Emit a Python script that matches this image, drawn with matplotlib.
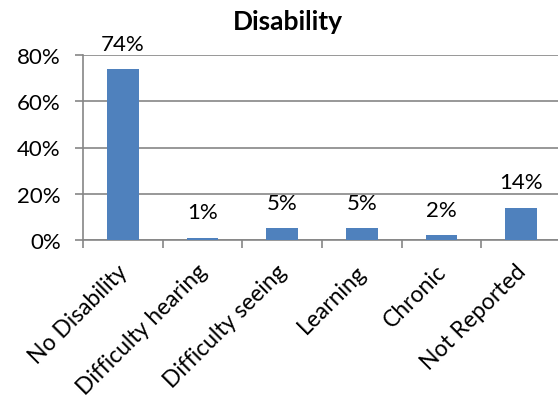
import matplotlib.pyplot as plt
from matplotlib.ticker import PercentFormatter
from matplotlib.transforms import ScaledTranslation

# data
categories = ["No Disability", "Difficulty hearing", "Difficulty seeing",
              "Learning", "Chronic", "Not Reported"]
values = [74, 1, 5, 5, 2, 14]

plt.rcParams['font.family'] = ['Lato', 'DejaVu Sans']

fig = plt.figure(figsize=(5.58, 4.06), dpi=100)
ax = fig.add_axes([83 / 558, 1 - 241 / 406, 478 / 558, 185 / 406])

x = range(len(categories))
ax.bar(x, values, width=0.4, color="#4F81BD", zorder=3)

for xi, v in zip(x, values):
    ax.annotate(f"{v}%", (xi, v), xytext=(0, 11), textcoords="offset points",
                ha="center", va="bottom", fontsize=16)

ax.set_xlim(-0.5, len(categories) - 0.5)
ax.set_ylim(0, 80)
ax.set_yticks([0, 20, 40, 60, 80])
ax.yaxis.set_major_formatter(PercentFormatter(decimals=0))
ax.grid(True, axis="y", color="#868686", linewidth=1.2, zorder=0)

# category boundaries as ticks, labels in the middle
ax.set_xticks([i - 0.5 for i in range(len(categories) + 1)])
ax.set_xticklabels([])
ax.set_xticks(list(x), minor=True)
ax.set_xticklabels(categories, minor=True, rotation=45, ha="right", va="center",
                   rotation_mode="anchor", fontsize=16.5)
ax.tick_params(axis="x", which="minor", length=0, pad=20)
ax.tick_params(axis="x", which="major", length=6, color="#868686", width=1.2)
ax.tick_params(axis="y", length=6, color="#868686", width=1.2, labelsize=16, pad=10)

shift = ScaledTranslation(0.01, 0, fig.dpi_scale_trans)
for lab in ax.get_xticklabels(minor=True):
    lab.set_transform(lab.get_transform() + shift)

for s in ["top", "right"]:
    ax.spines[s].set_visible(False)
for s in ["left", "bottom"]:
    ax.spines[s].set_color("#868686")
    ax.spines[s].set_linewidth(1.2)

fig.text(288 / 558, 1 - 22 / 406, "Disability", ha="center", va="center",
         fontsize=19, fontweight="bold")

fig.savefig("out.png", dpi=100)
